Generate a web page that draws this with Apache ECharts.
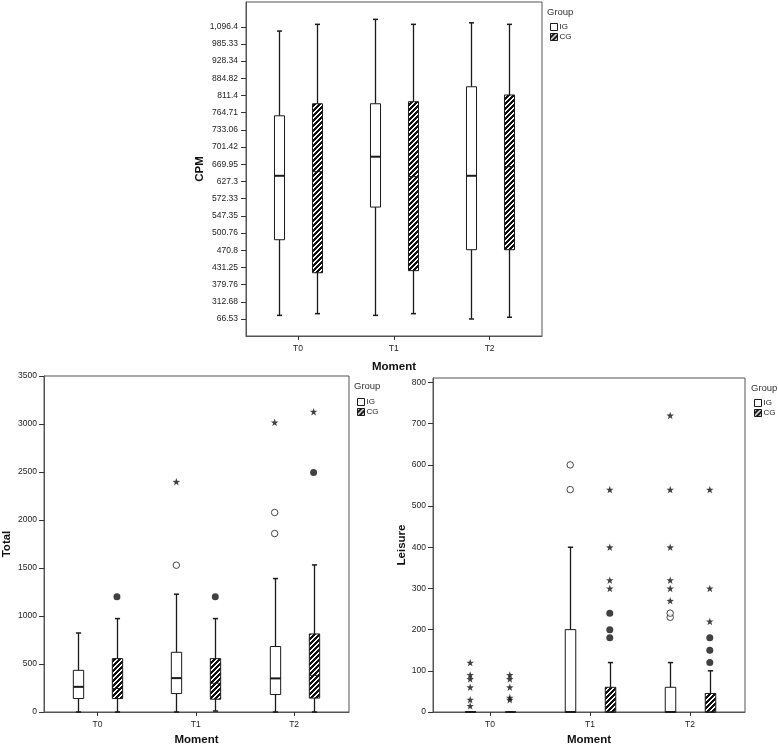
<!DOCTYPE html>
<html><head><meta charset="utf-8">
<script src="https://cdn.jsdelivr.net/npm/echarts@6/dist/echarts.min.js"></script>
<style>html,body{margin:0;padding:0;background:#fff}#c{width:778px;height:747px}</style>
</head><body><div id="c"></div>
<script>
// ---------- DATA ----------
const moments = ['T0', 'T1', 'T2'];
const groups = ['IG', 'CG'];

// CPM axis: ordinal tick values (as printed)
const cpmTicks = [66.53, 312.68, 379.76, 431.25, 470.8, 500.76, 547.35, 572.33, 627.3, 669.95, 701.42, 733.06, 764.71, 811.4, 884.82, 928.34, 985.33, 1096.4];
const cpmTickLabels = ['66.53', '312.68', '379.76', '431.25', '470.8', '500.76', '547.35', '572.33', '627.3', '669.95', '701.42', '733.06', '764.71', '811.4', '884.82', '928.34', '985.33', '1,096.4'];

// box stats: [min, Q1, median, Q3, max] per moment
const cpmIG = [[118.2, 489.1, 641.4, 759.0, 1068.6], [118.2, 560.1, 683.8, 789.0, 1144.1], [66.5, 471.7, 641.4, 848.8, 1121.9]];
const cpmCG = [[142.8, 415.3, 651.6, 789.0, 1112.0], [142.8, 421.5, 639.2, 794.6, 1112.0], [91.1, 471.7, 664.0, 813.6, 1112.0]];

const totalIG = [[0, 140, 262, 434, 823], [0, 192, 353, 622, 1227], [0, 182, 350, 682, 1390]];
const totalCG = [[0, 140, 245, 556, 973], [10, 133, 300, 556, 973], [0, 145, 382, 813, 1532]];
const totalTicks = [0, 500, 1000, 1500, 2000, 2500, 3000, 3500];
// outliers: [group, moment, value, kind]
const totalOutliers = [
  ['CG', 'T0', 1200, 'filled'],
  ['IG', 'T1', 1529, 'open'], ['IG', 'T1', 2398, 'star'],
  ['CG', 'T1', 1200, 'filled'],
  ['IG', 'T2', 1859, 'open'], ['IG', 'T2', 2078, 'open'], ['IG', 'T2', 3017, 'star'],
  ['CG', 'T2', 2495, 'filled'], ['CG', 'T2', 3128, 'star']
];

const leisureIG = [[0, 0, 0, 0, 0], [0, 0, 0, 200, 400], [0, 0, 0, 60, 120]];
const leisureCG = [[0, 0, 0, 0, 0], [0, 0, 0, 60, 120], [0, 0, 0, 45, 100]];
const leisureTicks = [0, 100, 200, 300, 400, 500, 600, 700, 800];
const leisureOutliers = [
  ['IG', 'T0', 15, 'star'], ['IG', 'T0', 30, 'star'], ['IG', 'T0', 60, 'star'], ['IG', 'T0', 80, 'star'], ['IG', 'T0', 90, 'star'], ['IG', 'T0', 120, 'star'],
  ['CG', 'T0', 30, 'star'], ['CG', 'T0', 35, 'star'], ['CG', 'T0', 60, 'star'], ['CG', 'T0', 80, 'star'], ['CG', 'T0', 90, 'star'],
  ['IG', 'T1', 540, 'open'], ['IG', 'T1', 600, 'open'],
  ['CG', 'T1', 180, 'filled'], ['CG', 'T1', 200, 'filled'], ['CG', 'T1', 240, 'filled'],
  ['CG', 'T1', 300, 'star'], ['CG', 'T1', 320, 'star'], ['CG', 'T1', 400, 'star'], ['CG', 'T1', 540, 'star'],
  ['IG', 'T2', 230, 'open'], ['IG', 'T2', 240, 'open'],
  ['IG', 'T2', 270, 'star'], ['IG', 'T2', 300, 'star'], ['IG', 'T2', 320, 'star'], ['IG', 'T2', 400, 'star'], ['IG', 'T2', 540, 'star'], ['IG', 'T2', 720, 'star'],
  ['CG', 'T2', 120, 'filled'], ['CG', 'T2', 150, 'filled'], ['CG', 'T2', 180, 'filled'],
  ['CG', 'T2', 220, 'star'], ['CG', 'T2', 300, 'star'], ['CG', 'T2', 540, 'star']
];

// ---------- STYLE / HELPERS ----------
const GROUP_OFFSET = {IG: -0.198, CG: 0.198};
const BOX_W = 0.105;
const INK = '#1a1a1a';
const FRAME = '#555';
const FONT = 'Liberation Sans, Arial, sans-serif';
const STAR = 'path://M0,-10L2.35,-3.24L9.51,-3.09L3.8,1.24L5.88,8.09L0,4L-5.88,8.09L-3.8,1.24L-9.51,-3.09L-2.35,-3.24Z';

// hatch pattern ("/" stripes)
const pc = document.createElement('canvas');
pc.width = 5; pc.height = 5;
const pctx = pc.getContext('2d');
const img = pctx.createImageData(5, 5);
for (let y = 0; y < 5; y++) for (let x = 0; x < 5; x++) {
  const white = ((x + y) % 5) < 2;
  const i = (y * 5 + x) * 4;
  const v = white ? 255 : 15;
  img.data[i] = v; img.data[i + 1] = v; img.data[i + 2] = v; img.data[i + 3] = 255;
}
pctx.putImageData(img, 0, 0);
const hatch = {image: pc, repeat: 'repeat'};

// CPM value -> position on ordinal axis (piecewise linear between printed ticks)
function cpmPos(v) {
  const t = cpmTicks;
  if (v <= t[0]) return 0;
  for (let i = 1; i < t.length; i++) {
    if (v <= t[i]) return (i - 1) + (v - t[i - 1]) / (t[i] - t[i - 1]);
  }
  const n = t.length - 1;
  return n + (v - t[n]) / (t[n] - t[n - 1]);
}

function boxSeries(name, gridIdx, stats, hatched, mapFn) {
  const f = mapFn || (v => v);
  const off = GROUP_OFFSET[name];
  return {
    type: 'custom', name: name, xAxisIndex: gridIdx, yAxisIndex: gridIdx,
    itemStyle: {color: hatched ? hatch : '#fff', borderColor: INK},
    encode: {x: 0, y: [1, 2, 3, 4, 5]},
    data: stats.map((s, i) => [i].concat(s.map(f))),
    renderItem: function (params, api) {
      const c = api.value(0) + off;
      const p = [1, 2, 3, 4, 5].map(k => api.coord([c, api.value(k)]));
      const w = api.size([BOX_W, 0])[0];
      const x = Math.round(p[0][0]) + 0.5;
      const yLow = p[0][1], yQ1 = p[1][1], yMed = p[2][1], yQ3 = p[3][1], yHigh = p[4][1];
      const ln = (x1, y1, x2, y2, lw) => ({type: 'line', shape: {x1, y1, x2, y2}, style: {stroke: INK, lineWidth: lw || 1}});
      const ch = [
        ln(x, yQ3, x, yHigh, 1.3), ln(x, yQ1, x, yLow, 1.3),
        ln(x - w / 4, yHigh, x + w / 4, yHigh, 1.5), ln(x - w / 4, yLow, x + w / 4, yLow, 1.5),
        {type: 'rect', shape: {x: x - w / 2, y: yQ3, width: w, height: yQ1 - yQ3},
          style: {fill: hatched ? hatch : '#fff', stroke: INK, lineWidth: 1}},
        ln(x - w / 2, yMed, x + w / 2, yMed, hatched ? 1 : 2)
      ];
      return {type: 'group', children: ch};
    }
  };
}

function outlierSeries(gridIdx, list) {
  return {
    type: 'scatter', name: 'outliers', xAxisIndex: gridIdx, yAxisIndex: gridIdx, z: 5,
    data: list.map(o => {
      const xv = moments.indexOf(o[1]) + GROUP_OFFSET[o[0]];
      const base = {value: [xv, o[2]]};
      if (o[3] === 'star') { base.symbol = STAR; base.symbolSize = 7.5; base.itemStyle = {color: '#111'}; }
      else if (o[3] === 'open') { base.symbol = 'circle'; base.symbolSize = 6.5; base.itemStyle = {color: '#fff', borderColor: INK, borderWidth: 1}; }
      else { base.symbol = 'circle'; base.symbolSize = 7; base.itemStyle = {color: '#111'}; }
      return base;
    })
  };
}

function xAxis(gridIdx, min, max, nameGap) {
  return {
    type: 'value', gridIndex: gridIdx, min: min, max: max,
    axisLine: {show: true, onZero: false, lineStyle: {color: FRAME}},
    splitLine: {show: false},
    axisTick: {show: true, customValues: [0, 1, 2], length: 4, lineStyle: {color: '#333'}},
    axisLabel: {customValues: [0, 1, 2], formatter: v => moments[Math.round(v)], fontSize: 8.5, color: '#222', margin: 8, fontFamily: FONT},
    name: 'Moment', nameLocation: 'middle', nameGap: nameGap,
    nameTextStyle: {fontWeight: 'bold', fontSize: 11.5, color: '#111', fontFamily: FONT}
  };
}
function yAxis(gridIdx, name, min, max, ticks, fmt, gap, margin) {
  return {
    type: 'value', gridIndex: gridIdx, min: min, max: max,
    axisLine: {show: true, onZero: false, lineStyle: {color: FRAME}},
    splitLine: {show: false},
    axisTick: {show: true, customValues: ticks, length: 5, lineStyle: {color: '#333'}},
    axisLabel: {customValues: ticks, formatter: fmt, fontSize: 8.5, color: '#222', margin: margin, fontFamily: FONT},
    name: name, nameLocation: 'middle', nameRotate: 90, nameGap: gap,
    nameTextStyle: {fontWeight: 'bold', fontSize: 11.5, color: '#111', fontFamily: FONT}
  };
}
function legend(left, top) {
  return {
    orient: 'vertical', left: left, top: top, padding: 0, itemGap: 2, itemWidth: 7, itemHeight: 7,
    selectedMode: false,
    textStyle: {fontSize: 8, color: '#222', padding: [0, 0, 0, -3], fontFamily: FONT},
    data: [
      {name: 'IG', icon: 'rect', itemStyle: {color: '#fff', borderColor: INK, borderWidth: 1}},
      {name: 'CG', icon: 'rect', itemStyle: {color: hatch, borderColor: INK, borderWidth: 1}}
    ]
  };
}
function groupTitle(left, top) {
  return {text: 'Group', left: left, top: top, padding: 0,
    textStyle: {fontSize: 9.5, fontWeight: 'normal', color: '#333', fontFamily: FONT}};
}

const cpmIdx = cpmTicks.map((_, i) => i);

const option = {
  animation: false,
  backgroundColor: '#fff',
  title: [groupTitle(547, 7), groupTitle(354, 381), groupTitle(751, 383)],
  legend: [legend(550, 23), legend(357, 398), legend(754, 399)],
  grid: [
    {left: 246, top: 2, width: 296, height: 334, show: true, borderColor: FRAME, borderWidth: 1, backgroundColor: 'transparent'},
    {left: 43, top: 376, width: 306, height: 336, show: true, borderColor: FRAME, borderWidth: 1, backgroundColor: 'transparent'},
    {left: 433, top: 378, width: 312, height: 335, show: true, borderColor: FRAME, borderWidth: 1, backgroundColor: 'transparent'}
  ],
  xAxis: [xAxis(0, -0.543, 2.547, 25), xAxis(1, -0.544, 2.558, 22), xAxis(2, -0.57, 2.55, 22)],
  yAxis: [
    yAxis(0, 'CPM', -0.99, 18.44, cpmIdx, v => cpmTickLabels[Math.round(v)], 40, 8),
    yAxis(1, 'Total', 0, 3500, totalTicks, v => String(v), 31, 7),
    yAxis(2, 'Leisure', 0, 811, leisureTicks, v => String(v), 25, 7)
  ],
  series: [
    boxSeries('IG', 0, cpmIG, false, cpmPos),
    boxSeries('CG', 0, cpmCG, true, cpmPos),
    boxSeries('IG', 1, totalIG, false),
    boxSeries('CG', 1, totalCG, true),
    outlierSeries(1, totalOutliers),
    boxSeries('IG', 2, leisureIG, false),
    boxSeries('CG', 2, leisureCG, true),
    outlierSeries(2, leisureOutliers)
  ]
};
const chart = echarts.init(document.getElementById('c'), null, {renderer: 'canvas'});
chart.setOption(option);
</script>
</body></html>
